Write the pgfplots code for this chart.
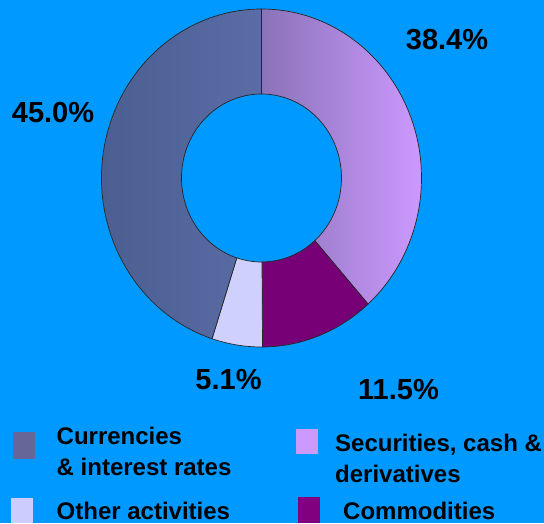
\documentclass[border=0pt]{standalone}
\usepackage{pgfplots}
\usepackage{pgfplotstable}
\pgfplotsset{compat=1.18}
\usepackage{fontspec}
\setmainfont{Liberation Sans}
\definecolor{bg}{HTML}{0099FF}
\definecolor{cur}{HTML}{666699}
\definecolor{sec}{HTML}{CC99FF}
\definecolor{oth}{HTML}{CCCCFF}
\definecolor{com}{HTML}{800080}

% shares in percent, clockwise from 12 o'clock
\pgfplotstableread{
name share
sec 38.4
com 11.5
oth 5.1
cur 45.0
}\shares

% ring geometry (1 axis unit = 1 pt, origin bottom left)
\def\cx{261.5}\def\cy{345}
\def\rxo{160}\def\ryo{169}
\def\rxi{80}\def\ryi{84}
\pgfmathsetmacro\aA{90}
\pgfplotstablegetelem{0}{share}\of\shares \pgfmathsetmacro\aB{\aA-3.6*\pgfplotsretval}
\pgfplotstablegetelem{1}{share}\of\shares \pgfmathsetmacro\aC{\aB-3.6*\pgfplotsretval}
\pgfplotstablegetelem{2}{share}\of\shares \pgfmathsetmacro\aD{\aC-3.6*\pgfplotsretval}
\pgfplotstablegetelem{3}{share}\of\shares \pgfmathsetmacro\aE{\aD-3.6*\pgfplotsretval}
% ring sector between two angles
\newcommand\sector[2]{%
  (axis cs:{\cx+\rxo*cos(#1)},{\cy+\ryo*sin(#1)})
  arc[start angle=#1, end angle=#2, x radius=\rxo, y radius=\ryo]
  -- (axis cs:{\cx+\rxi*cos(#2)},{\cy+\ryi*sin(#2)})
  arc[start angle=#2, end angle=#1, x radius=\rxi, y radius=\ryi] -- cycle}

\begin{document}
\begin{tikzpicture}
\begin{axis}[
  x=1pt,y=1pt,
  xmin=0,xmax=544,ymin=0,ymax=523,
  hide axis,clip=false,
]
\fill[bg] (axis cs:0,0) rectangle (axis cs:544,523);
\shade[left color=sec!50!cur!90!black,right color=sec,draw=black!85,line width=0.7pt] \sector{\aA}{\aB};
\filldraw[fill=com!93!black,draw=black!85,line width=0.7pt] \sector{\aB}{\aC};
\filldraw[fill=oth!92!white,draw=black!85,line width=0.7pt] \sector{\aC}{\aD};
\shade[left color=cur!85!bg!85!black,right color=cur!88!bg,draw=black!85,line width=0.7pt] \sector{\aD}{\aE};

\begin{scope}[every node/.style={font=\fontsize{29}{32}\selectfont\bfseries,inner sep=0pt}]
\node at (axis cs:447,483) {38.4\%};
\node at (axis cs:53,410) {45.0\%};
\node at (axis cs:228.5,143) {5.1\%};
\node at (axis cs:398.5,133.5) {11.5\%};
\end{scope}

\begin{scope}[every node/.style={font=\fontsize{24}{30}\selectfont\bfseries,inner sep=0pt,anchor=base west}]
\fill[cur] (axis cs:13,64) rectangle (axis cs:35,91);
\node at (axis cs:56.5,78.5) {Currencies};
\node at (axis cs:56.5,48) {\& interest rates};
\fill[sec] (axis cs:296,69) rectangle (axis cs:318,94);
\node at (axis cs:335,72) {Securities, cash \&};
\node at (axis cs:335,41) {derivatives};
\fill[oth] (axis cs:11,0) rectangle (axis cs:33,25);
\node at (axis cs:56.5,4) {Other activities};
\fill[com] (axis cs:298,0) rectangle (axis cs:320,26.5);
\node at (axis cs:343,4) {Commodities};
\end{scope}
\end{axis}
\end{tikzpicture}
\end{document}
